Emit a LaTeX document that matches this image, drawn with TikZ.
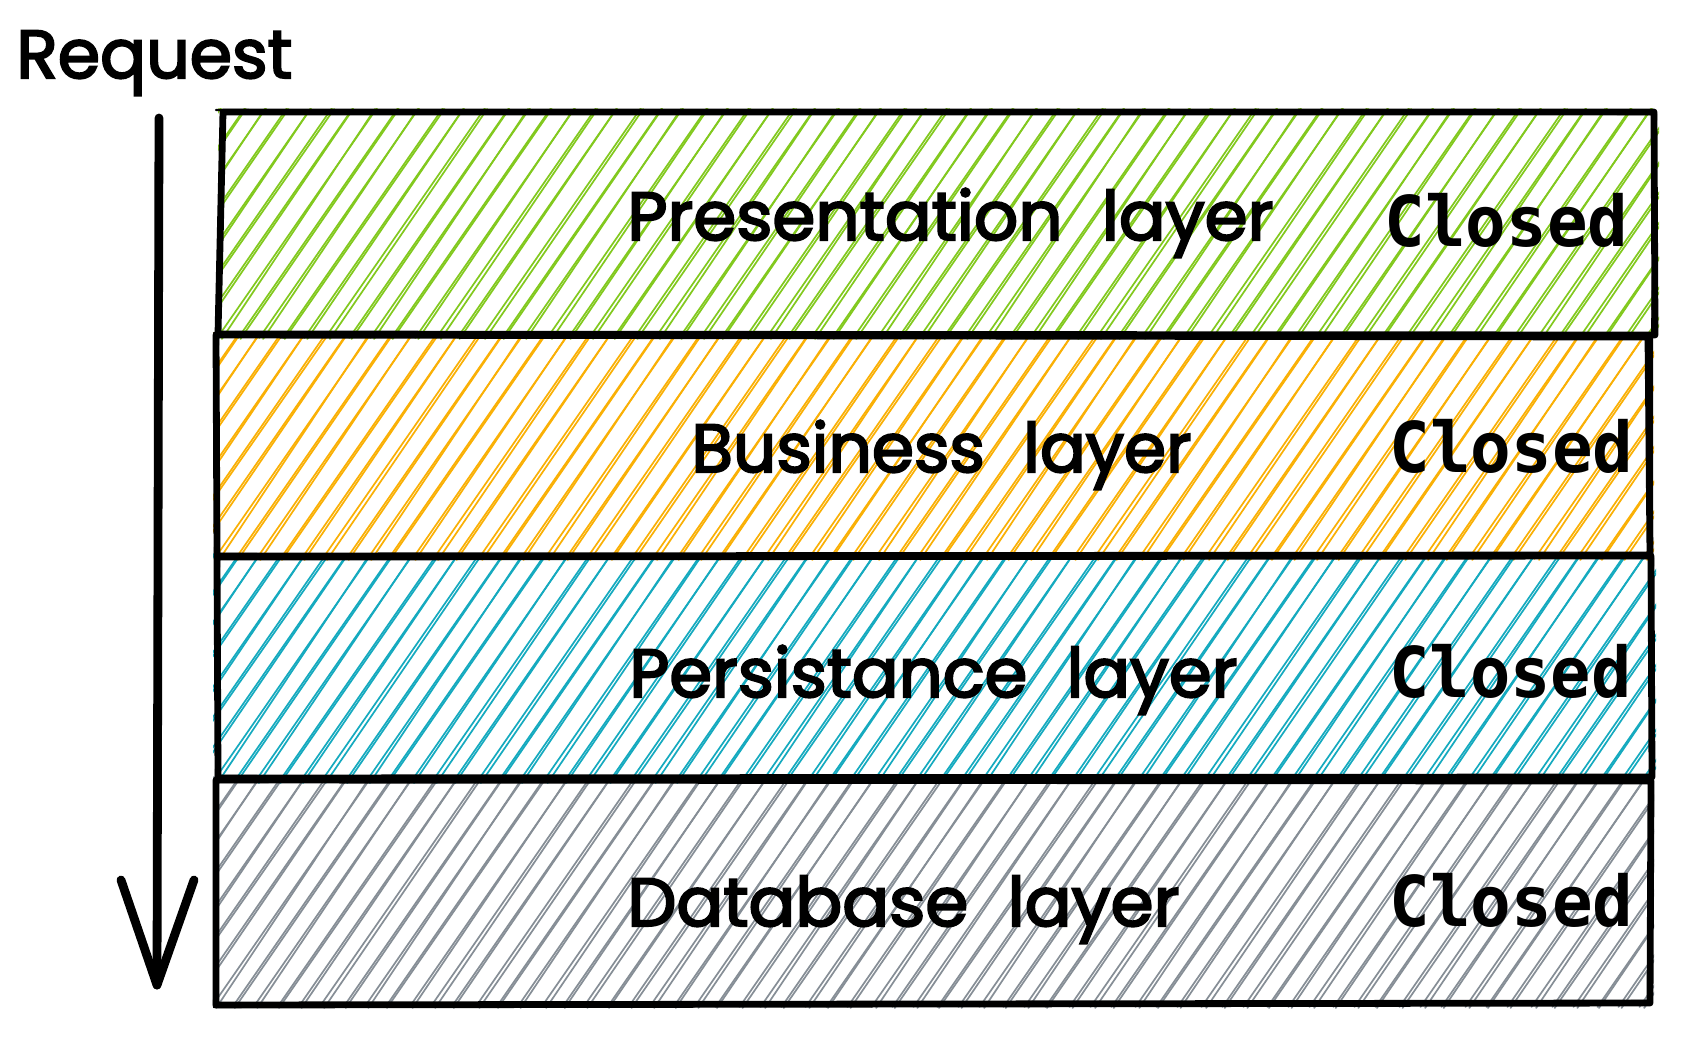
\documentclass[tikz,border=0pt]{standalone}
\usepackage{fontspec}
\usepackage{graphicx}
\newfontfamily\handfont{Poppins}[FakeBold=3]
\newfontfamily\codefont{DejaVu Sans Mono}
\definecolor{hgreen}{HTML}{82C91E}
\definecolor{horange}{HTML}{FAB005}
\definecolor{hcyan}{HTML}{15AABF}
\definecolor{hgray}{HTML}{868E96}
\tikzset{
  outline/.style={line width=3.4pt, line cap=round, line join=round, black},
  outlinetwo/.style={line width=1.1pt, line cap=round, line join=round, black},
  hatchline/.style={line width=0.85pt, line cap=round},
  handtext/.style={anchor=base west, inner sep=0pt, font=\handfont\fontsize{34}{42}\selectfont},
  codetext/.style={anchor=base west, inner sep=0pt, font=\codefont\bfseries\fontsize{35}{42}\selectfont},
  arrowline/.style={line width=4.4pt, line cap=round, line join=round, black},
}
\newcommand{\wgap}{\hspace{0.3em}}
% #1 colour, #2 left, #3 top, #4 right, #5 bottom
\newcommand{\hatchbox}[5]{%
  \begin{scope}
    \clip (#2-3,#3-4) rectangle (#4+4,#5+6);
    \pgfmathsetmacro{\hh}{#5-#3}
    \pgfmathsetmacro{\ddx}{\hh*0.72}
    \pgfmathsetmacro{\xstart}{#2-\ddx}
    \foreach \k in {0,...,80} {
      \pgfmathsetmacro{\xa}{\xstart+22*\k+mod(\k*29,3)}
      \pgfmathsetmacro{\oa}{1.5+mod(\k*37,5)*0.8}
      \pgfmathsetmacro{\ob}{mod(\k*53,7)*0.7-2}
      \draw[hatchline,#1] (\xa,#5+4) -- (\xa+\ddx,#3-4);
      \draw[hatchline,#1] (\xa+\oa,#5+5) -- (\xa+\ddx+\ob,#3-3);
    }
  \end{scope}}
\begin{document}
\begin{tikzpicture}[x=0.5pt,y=-0.5pt]
\useasboundingbox (0,0) rectangle (1694,1046);
\fill[white] (0,0) rectangle (1694,1046);

% hatching
\hatchbox{hgreen}{221}{112}{1655}{334}
\hatchbox{horange}{216}{336}{1650}{555}
\hatchbox{hcyan}{216}{557}{1652}{778}
\hatchbox{hgray}{216}{780}{1650}{1003}

% box outlines
\coordinate (g1) at (223,112); \coordinate (g2) at (1654,112);
\coordinate (g3) at (1655,335); \coordinate (g4) at (218,334);
\draw[outline] (g1) -- (g2) -- (g3) -- (g4) -- cycle;
\draw[outlinetwo] (216,110) -- (1656,114) -- (1652,337) -- (219,336) -- (224,116);

\coordinate (o1) at (216,335); \coordinate (o2) at (1648,337);
\coordinate (o3) at (1650,555); \coordinate (o4) at (217,556);
\draw[outline] (o1) -- (o2) -- (o3) -- (o4) -- cycle;
\draw[outlinetwo] (214,333) -- (1652,338) -- (1652,557) -- (215,554) -- (218,338);

\coordinate (c1) at (217,557); \coordinate (c2) at (1651,556);
\coordinate (c3) at (1652,777); \coordinate (c4) at (218,778);
\draw[outline] (c1) -- (c2) -- (c3) -- (c4) -- cycle;
\draw[outlinetwo] (215,555) -- (1653,558) -- (1650,779) -- (216,776) -- (219,560);

\coordinate (d1) at (216,780); \coordinate (d2) at (1651,781);
\coordinate (d3) at (1650,1003); \coordinate (d4) at (216,1005);
\draw[outline] (d1) -- (d2) -- (d3) -- (d4) -- cycle;
\draw[outlinetwo] (214,782) -- (1652,779) -- (1651,1001) -- (214,1007) -- (217,784);

% request arrow
\coordinate (reqstart) at (159,118);
\coordinate (reqend) at (157,985);
\coordinate (armleft) at (121,880);
\coordinate (armright) at (194,880);
\draw[arrowline] (reqstart) -- (reqend);
\draw[arrowline] (armleft) -- (reqend) -- (armright);

% texts
\node[handtext] (request) at (16,78) {\resizebox{138pt}{\height}{Request}};
\node[handtext] (presentation) at (627,240) {\resizebox{323pt}{\height}{Presentation\wgap{} layer}};
\node[handtext] (business) at (691,472) {\resizebox{250pt}{\height}{Business\wgap{} layer}};
\node[handtext] (persistance) at (629,697) {\resizebox{304pt}{\height}{Persistance\wgap{} layer}};
\node[handtext] (database) at (627,926) {\resizebox{276pt}{\height}{Database\wgap{} layer}};

\node[codetext] (closeda) at (1384,246) {\resizebox{122pt}{\height}{Closed}};
\node[codetext] (closedb) at (1389,472) {\resizebox{122pt}{\height}{Closed}};
\node[codetext] (closedc) at (1389,697) {\resizebox{121pt}{\height}{Closed}};
\node[codetext] (closedd) at (1389,926) {\resizebox{122pt}{\height}{Closed}};
\end{tikzpicture}
\end{document}
